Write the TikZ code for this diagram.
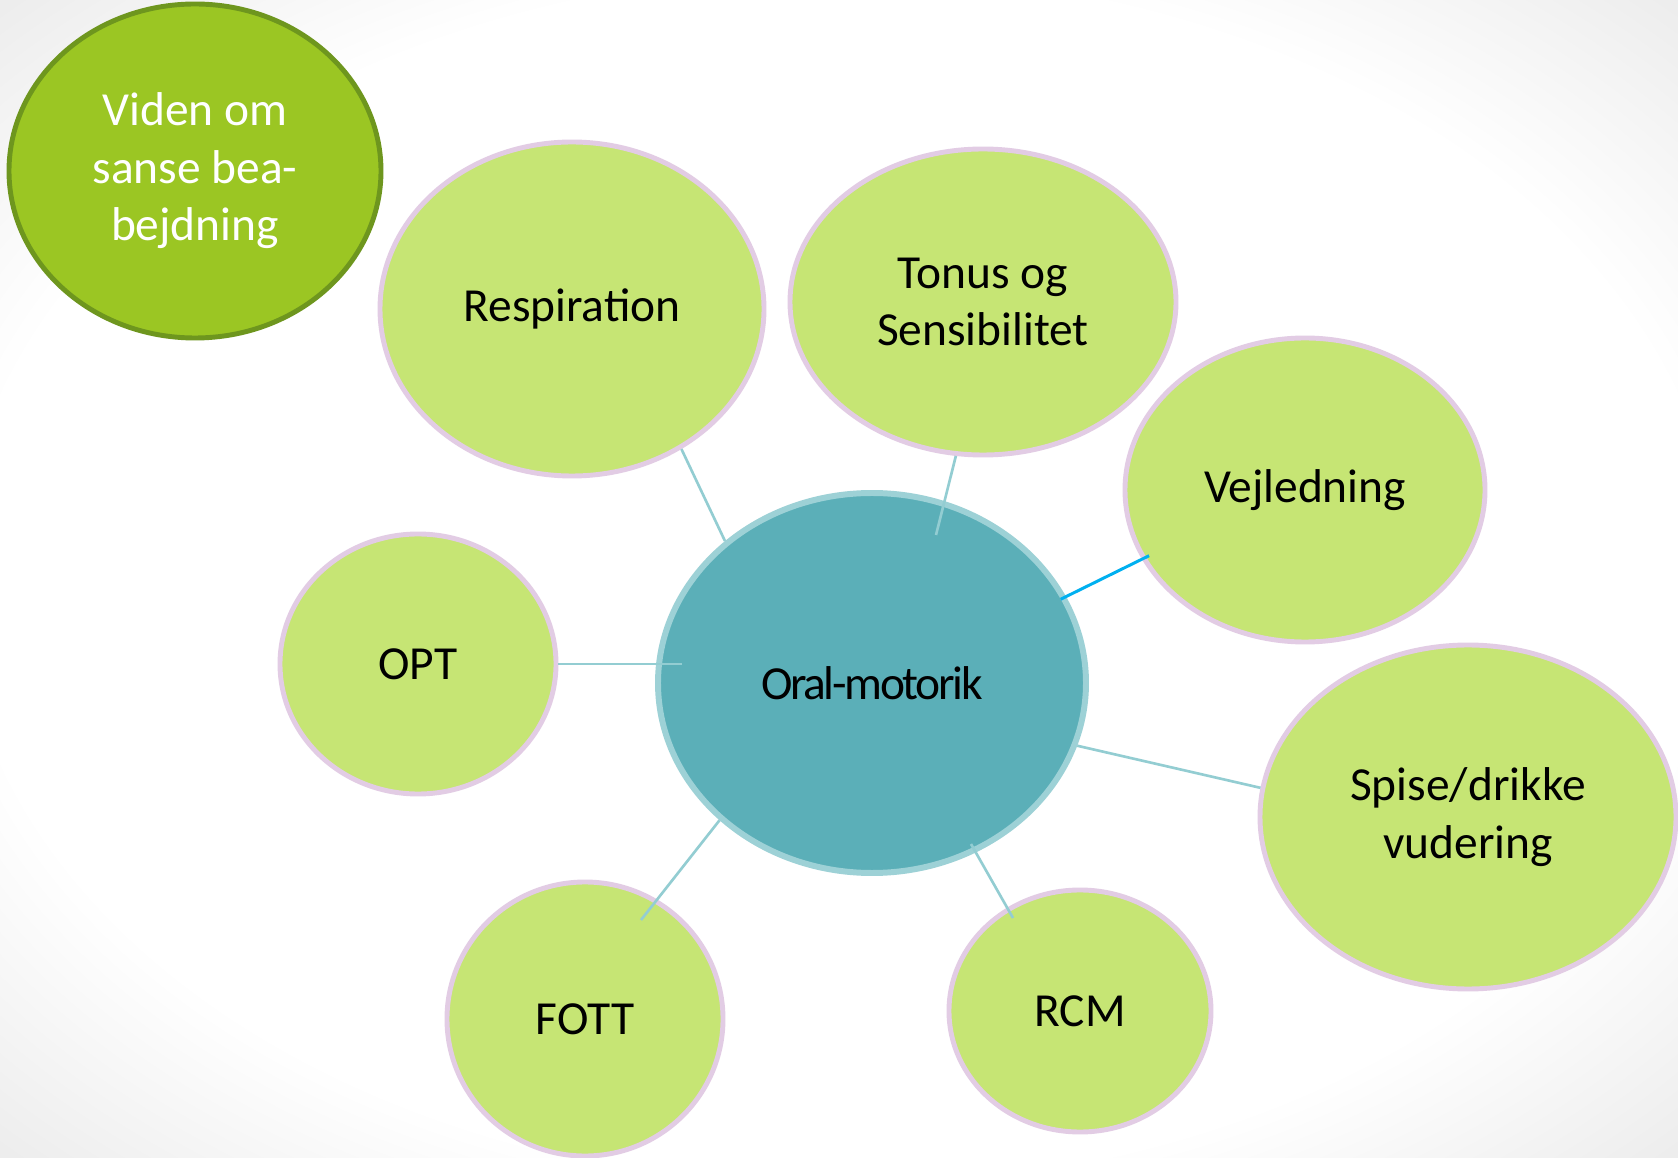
\documentclass[tikz,border=0pt]{standalone}
\usepackage{fontspec}
\setmainfont{Carlito}
\usetikzlibrary{shapes.geometric}

\definecolor{leaf}{HTML}{C6E574}
\definecolor{lilac}{HTML}{E2CCE4}
\definecolor{grass}{HTML}{9BC623}
\definecolor{moss}{HTML}{6E961E}
\definecolor{sea}{HTML}{5BAFB8}
\definecolor{foam}{HTML}{9DD1D6}
\definecolor{wire}{HTML}{93CDD2}
\definecolor{sky}{HTML}{00B0F0}

\pgfdeclareradialshading{paper}{\pgfpoint{0bp}{0bp}}{color(0bp)=(white); color(26bp)=(white); color(35bp)=(black!7); color(50bp)=(black!8)}

\begin{document}
\begin{tikzpicture}[x=0.02cm, y=-0.02cm,
    dims/.style 2 args={minimum width=#1*0.02cm, minimum height=#2*0.02cm},
    bubble/.style={ellipse, draw=lilac, line width=2.8pt, fill=leaf, inner sep=0pt,
        align=center, font=\fontsize{27}{32.7}\selectfont},
    link/.style={draw=wire, line width=1.5pt}]
        \useasboundingbox (0,0) rectangle (1678,1158);
        \shade[shading=paper] (0,0) rectangle (1678,1158);

        % the topics round the centre
        \node[bubble, dims={372}{334}, fill=grass, draw=moss, text=white] (viden) at (195,171) {Viden om\\sanse bea-\\bejdning};
        \node[bubble, dims={384}{334}] (resp) at (572,309) {Respiration};
        \node[bubble, dims={386}{306}] (tonus) at (983,302) {Tonus og\\Sensibilitet};
        \node[bubble, dims={360}{304}] (vejl) at (1305,490) {Vejledning};
        \node[bubble, dims={416}{344}] (spise) at (1468,817) {Spise/drikke\\vudering};
        \node[bubble, dims={276}{260}] (opt) at (418,664) {OPT};
        \node[bubble, dims={276}{274}] (fott) at (585,1019) {FOTT};
        \node[bubble, dims={262}{242}] (rcm) at (1080,1011) {RCM};
        \node[bubble, dims={428}{380}, fill=sea, draw=foam, line width=3.4pt] (oral) at (872,683)
            {\addfontfeature{LetterSpace=-5}Oral-motorik};

        % loose ends of the lines
        \coordinate (t-in) at (936,535);
        \coordinate (o-in) at (682,664);
        \coordinate (f-in) at (641,920);
        \coordinate (r-out) at (971,844);
        \coordinate (r-in) at (1013,918);

        \draw[link] (resp.-52) -- (oral.136);
        \draw[link] (tonus.-100) -- (t-in);
        \draw[link, draw=sky, line width=1.7pt, shorten <=-8*0.02cm, shorten >=-6*0.02cm] (vejl.203) -- (oral.24);
        \draw[link] (spise.172) -- (oral.-17);
        \draw[link] (opt.east) -- (o-in);
        \draw[link] (oral.-138) -- (f-in);
        \draw[link] (r-out) -- (r-in);
\end{tikzpicture}
\end{document}
